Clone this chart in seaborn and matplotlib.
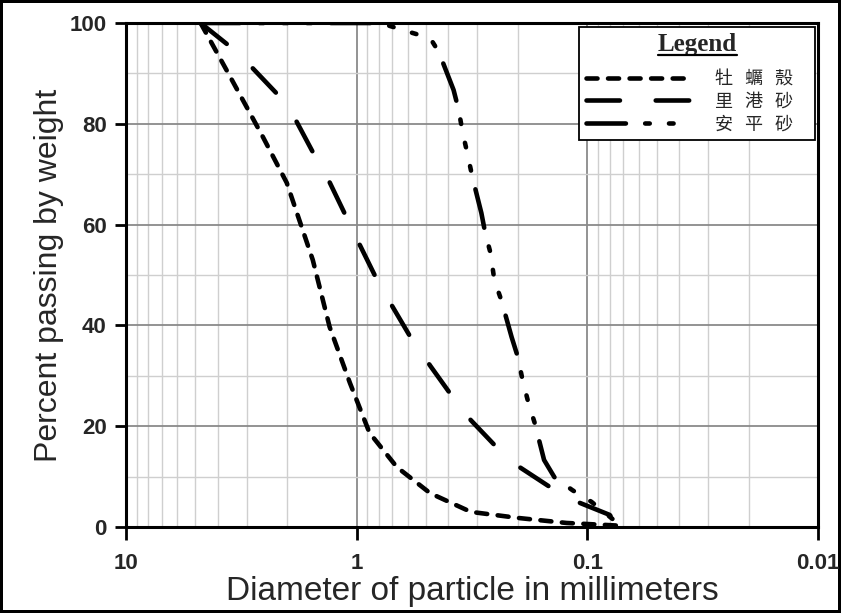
import numpy as np
import pandas as pd
import matplotlib
matplotlib.use("Agg")
import matplotlib.pyplot as plt
import seaborn as sns
from matplotlib.lines import Line2D
from matplotlib.ticker import LogLocator, MultipleLocator, FixedLocator, FixedFormatter

# ---- data ----
series_names = ["牡   蠣   殼    ", "里   港   砂    ", "安   平   砂    "]

shell_d = [4.75, 3.6, 2.55, 2.01, 1.55, 1.31, 1.07, 0.88, 0.67, 0.48, 0.32, 0.20, 0.123, 0.075]
shell_p = [100, 90, 77.4, 68.3, 53, 39.7, 28.6, 18.7, 11.9, 6.7, 3.0, 1.8, 0.8, 0.3]

ligang_d = [4.75, 3.6, 2.82, 2.22, 1.82, 1.55, 1.31, 1.13, 0.97, 0.836, 0.705, 0.59,
            0.48, 0.395, 0.32, 0.253, 0.197, 0.146, 0.108, 0.080, 0.075]
ligang_p = [100, 95.6, 91, 86, 80.4, 74.4, 68.4, 62.3, 56, 50, 44, 38,
            32, 26.6, 21.2, 16.3, 11.9, 8, 4.8, 2.4, 0.8]

anping_d = [4.75, 0.88, 0.74, 0.57, 0.48, 0.44, 0.38, 0.361, 0.347, 0.33, 0.315, 0.288,
            0.277, 0.263, 0.253, 0.236, 0.213, 0.20, 0.191, 0.18, 0.169, 0.154, 0.139,
            0.116, 0.096, 0.075]
anping_p = [100, 100, 99.6, 98, 97, 94.2, 86.7, 82.7, 78.2, 73.8, 69.4, 62.3,
            58.3, 54.4, 49, 45, 37.7, 33.7, 29.2, 24.6, 20.6, 13.3, 9.9,
            7.3, 5, 1]

x_ticks = [10, 1, 0.1, 0.01]
x_tick_labels = ["10", "1", "0.1", "0.01"]
y_ticks = [0, 20, 40, 60, 80, 100]

# ---- style ----
sns.set_theme(style="white")
plt.rcParams["font.family"] = ["Liberation Sans", "DejaVu Sans"]

fig = plt.figure(figsize=(8.41, 6.13), dpi=100)
fig.patch.set_facecolor("white")
fig.patch.set_edgecolor("black")
fig.patch.set_linewidth(3)
ax = fig.add_axes([126 / 841, 1 - 527 / 613, (818 - 126) / 841, (527 - 23) / 613])

lw = 3.3
styles = [
    (0, (2.4, 2.3)),
    (0, (7.3, 7.8)),
    (0, (8.6, 4.2, 1.0, 4.2, 1.0, 4.2, 1.0, 4.2)),
]
datasets = [(shell_d, shell_p), (ligang_d, ligang_p), (anping_d, anping_p)]

for name, (d, p), ls in zip(series_names, datasets, styles):
    df = pd.DataFrame({"d": d, "p": p})
    sns.lineplot(data=df, x="d", y="p", ax=ax, sort=False, color="black",
                 linewidth=lw, linestyle=ls, dash_capstyle="round",
                 label=name, legend=False, zorder=3)

ax.set_xscale("log")
ax.set_xlim(10, 0.01)
ax.set_ylim(0, 100)

ax.xaxis.set_major_locator(FixedLocator(x_ticks))
ax.xaxis.set_major_formatter(FixedFormatter(x_tick_labels))
ax.xaxis.set_minor_locator(LogLocator(base=10, subs=np.arange(2, 10)))
ax.xaxis.set_minor_formatter(plt.NullFormatter())
ax.yaxis.set_major_locator(FixedLocator(y_ticks))
ax.yaxis.set_minor_locator(MultipleLocator(10))

ax.grid(which="major", color="#8a8a8a", linewidth=1.3, zorder=1)
ax.grid(which="minor", color="#cfcfcf", linewidth=1.0, zorder=0)
ax.set_axisbelow(True)

for s in ax.spines.values():
    s.set_color("black")
    s.set_linewidth(2.2)
    s.set_visible(True)

ax.tick_params(axis="x", which="major", bottom=True, direction="out", length=9, width=2,
               color="black", pad=10, labelsize=16)
ax.tick_params(axis="y", which="major", left=True, direction="out", length=8, width=2,
               color="black", pad=6, labelsize=16)
ax.tick_params(which="minor", length=0)
for lab in ax.get_xticklabels() + ax.get_yticklabels():
    lab.set_fontweight("bold")

ax.set_xlabel("Diameter of particle in millimeters", fontsize=24, labelpad=1)
ax.set_ylabel("Percent passing by weight", fontsize=23, labelpad=4)

# legend
handles = [Line2D([], [], color="black", linewidth=lw, linestyle=ls,
                  dash_capstyle="round") for ls in styles]
leg = ax.legend(handles, series_names, title="Legend", loc="upper right",
                bbox_to_anchor=(0.996, 0.992), borderaxespad=0,
                frameon=True, fancybox=False, framealpha=1, edgecolor="black",
                handlelength=5.9, handletextpad=1.25, labelspacing=0.25,
                borderpad=0.35,
                prop={"family": ["Noto Sans CJK TC", "DejaVu Sans"], "size": 13})
leg._legend_box.sep = 10
leg.get_frame().set_linewidth(1.3)
leg.get_title().set_fontfamily(["Liberation Serif", "DejaVu Serif"])
leg.get_title().set_fontweight("bold")
leg.get_title().set_fontsize(18)
leg.set_zorder(5)

fig.canvas.draw()
bb = leg.get_title().get_window_extent()
fig.add_artist(Line2D([bb.x0 / fig.bbox.width, bb.x1 / fig.bbox.width],
                      [(bb.y0 + 1) / fig.bbox.height, (bb.y0 + 1) / fig.bbox.height],
                      color="black", linewidth=1.6, transform=fig.transFigure, zorder=6))

fig.savefig("out.png", dpi=100, facecolor=fig.get_facecolor(), edgecolor=fig.get_edgecolor())
